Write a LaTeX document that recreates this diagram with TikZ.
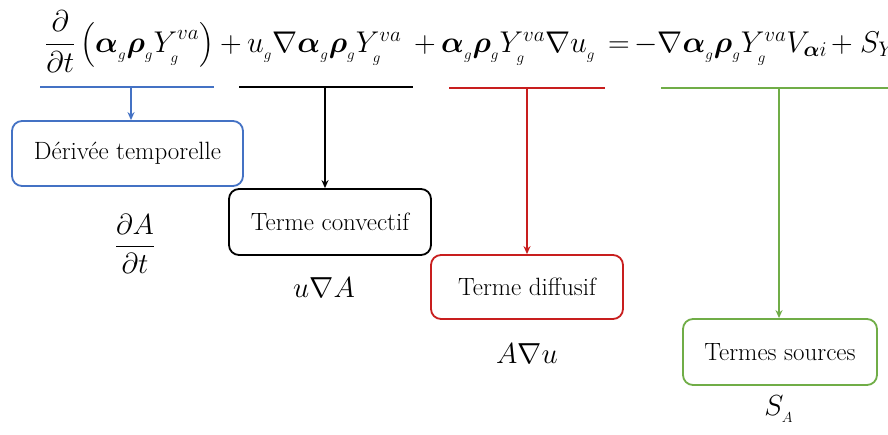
\RequirePackage{fix-cm}
\documentclass[tikz,border=0pt]{standalone}
\usepackage{amsmath,bm}
\usetikzlibrary{arrows.meta,calc}
\definecolor{cblue}{HTML}{4472C4}
\definecolor{cred}{HTML}{C81E1E}
\definecolor{cgreen}{HTML}{70AD47}
\tikzset{
  termbox/.style={draw=#1, line width=1.8pt, rounded corners=10pt, inner sep=0pt, font=\fontsize{25}{30}\selectfont},
  underl/.style={draw=#1, line width=1.8pt},
  conn/.style={draw=#1, line width=1.5pt, -{Stealth[length=8pt,width=7pt]}},
  mathlbl/.style={inner sep=0pt, font=\fontsize{29}{34}\selectfont},
  eqpart/.style={inner sep=0pt, anchor=base west, font=\fontsize{30}{36}\selectfont},
  eqop/.style={inner sep=0pt, anchor=base, font=\fontsize{30}{36}\selectfont}
}
\begin{document}
\begin{tikzpicture}[x=1pt,y=1pt]
\useasboundingbox (0,0) rectangle (888,-434);
\clip (0,0) rectangle (888,-434);
% equation, term by term
\node[eqpart] (e1) at (45,-52) {$\displaystyle \frac{\partial}{\partial t}\left(\bm{\alpha}_{_g}\bm{\rho}_{_g}Y_{_g}^{va}\right)$};
\node[eqop] (p1) at (231,-52) {$+$};
\node[eqpart] (e2) at (247,-52) {$u_{_g}\nabla\bm{\alpha}_{_g}\bm{\rho}_{_g}Y_{_g}^{va}$};
\node[eqop] (p2) at (425,-52) {$+$};
\node[eqpart] (e3) at (441,-52) {$\bm{\alpha}_{_g}\bm{\rho}_{_g}Y_{_g}^{va}\nabla u_{_g}$};
\node[eqop] (q) at (619,-52) {$=$};
\node[eqpart] (e4) at (634,-52) {$-\nabla\bm{\alpha}_{_g}\bm{\rho}_{_g}Y_{_g}^{va}V_{\bm{\alpha}i}$};
\node[eqop] (p3) at (842,-52) {$+$};
\node[eqpart] (e5) at (860,-52) {$S_{Y_{_g}^{va}}$};
% underlines
\coordinate (b1) at (40,-87);  \coordinate (b2) at (214,-87); \coordinate (bm) at (131,-87);
\coordinate (k1) at (239,-87); \coordinate (k2) at (413,-87); \coordinate (km) at (325,-87);
\coordinate (r1) at (449,-88); \coordinate (r2) at (605,-88); \coordinate (rm) at (527,-88);
\coordinate (g1) at (661,-88); \coordinate (g2) at (900,-88); \coordinate (gm) at (779,-88);
\draw[underl=cblue] (b1) -- (b2);
\draw[underl=black] (k1) -- (k2);
\draw[underl=cred] (r1) -- (r2);
\draw[underl=cgreen] (g1) -- (g2);
% boxes
\node[termbox=cblue, minimum width=231pt, minimum height=65pt] (tb) at (127.5,-153.5) {Dérivée temporelle};
\node[termbox=black, minimum width=202pt, minimum height=66pt] (tk) at (330,-222) {Terme convectif};
\node[termbox=cred, minimum width=192pt, minimum height=64pt] (tr) at (527,-287) {Terme diffusif};
\node[termbox=cgreen, minimum width=194pt, minimum height=66pt] (tg) at (780,-352) {Termes sources};
% arrows
\draw[conn=cblue] (bm) -- (bm |- tb.north);
\draw[conn=black] (km) -- (km |- tk.north);
\draw[conn=cred] (rm) -- (rm |- tr.north);
\draw[conn=cgreen] (gm) -- (gm |- tg.north);
% math labels
\node[mathlbl] (lb) at (135,-244) {$\displaystyle\frac{\partial A}{\partial t}$};
\node[mathlbl, anchor=base] (lk) at (324,-297) {$u\nabla A$};
\node[mathlbl, anchor=base] (lr) at (527,-363) {$A\nabla u$};
\node[mathlbl, anchor=base] (lg) at (779,-415) {$S_{_A}$};
\end{tikzpicture}
\end{document}
